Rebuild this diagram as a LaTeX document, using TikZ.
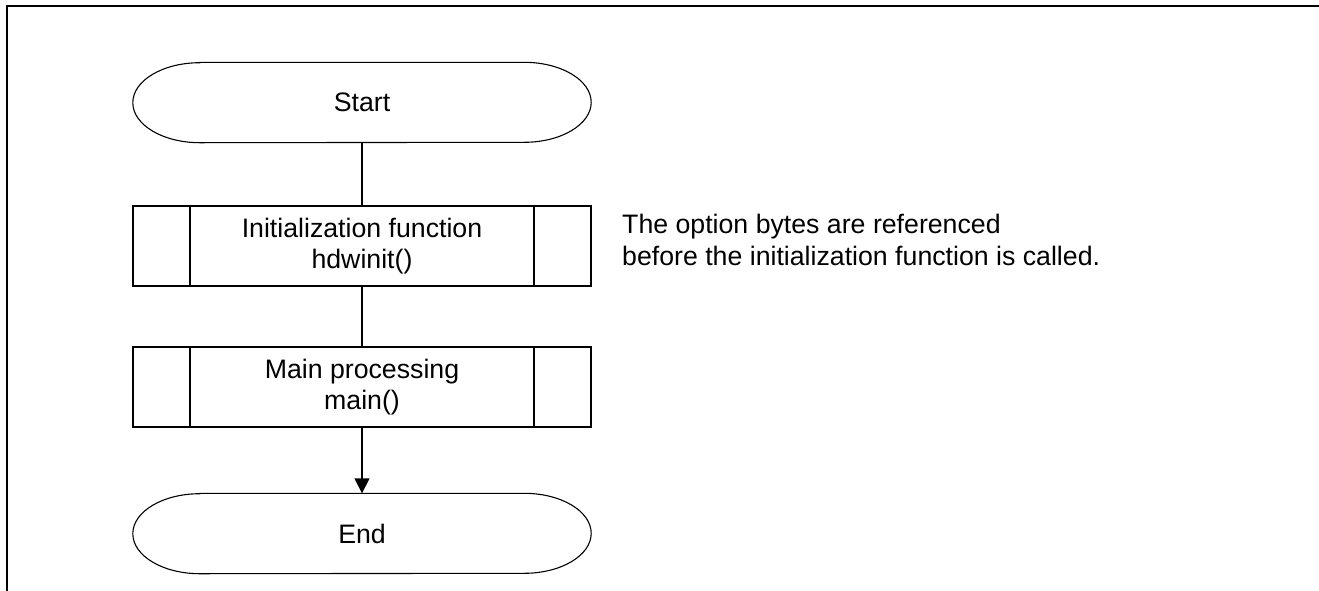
\documentclass[tikz,border=0pt]{standalone}
\usepackage{fontspec}
\setmainfont{Liberation Sans}
\usetikzlibrary{arrows.meta}
\begin{document}
\begin{tikzpicture}[x=1pt,y=-1pt,
  every node/.style={font=\fontsize{26.7}{31.5}\selectfont},
  term/.style={minimum width=458pt,minimum height=80pt,inner sep=0pt},
  termline/.style={line width=1.1pt},
  proc/.style={draw,line width=1.6pt,minimum width=458pt,minimum height=80pt,inner sep=0pt,align=center},
  conn/.style={line width=1.6pt},
  frame/.style={line width=2.4pt}]
\useasboundingbox (0,0) rectangle (1319,590);
\fill[white] (0,0) rectangle (1319,590);
\draw[frame] (7,591) -- (7,6) -- (1319,6);
% terminals
\node[term] (start) at (362,102.5) {Start};
\node[term] (end) at (362,533.5) {End};
\foreach \n in {start,end}{
  \draw[termline] ([xshift=67pt]\n.north west) -- ([xshift=-67pt]\n.north east)
    arc[start angle=90,end angle=-90,x radius=67pt,y radius=40pt]
    -- ([xshift=67pt]\n.south west)
    arc[start angle=270,end angle=90,x radius=67pt,y radius=40pt] -- cycle;
}
% processes
\node[proc] (init) at (362,246) {Initialization function\\hdwinit()};
\node[proc] (mainp) at (362,387) {Main processing\\main()};
\foreach \n in {init,mainp}{
  \draw[line width=1.6pt] ([xshift=58pt]\n.north west) -- ([xshift=58pt]\n.south west);
  \draw[line width=1.6pt] ([xshift=-58pt]\n.north east) -- ([xshift=-58pt]\n.south east);
}
% connectors
\draw[conn] (start.south) -- (init.north);
\draw[conn] (init.south) -- (mainp.north);
\draw[conn,-{Triangle[length=15pt,width=15pt]}] (mainp.south) -- (end.north);
% note
\node[anchor=base west,align=left,inner sep=0pt] (note) at (622,265)
  {The option bytes are referenced\\before the initialization function is called.};
\end{tikzpicture}
\end{document}
